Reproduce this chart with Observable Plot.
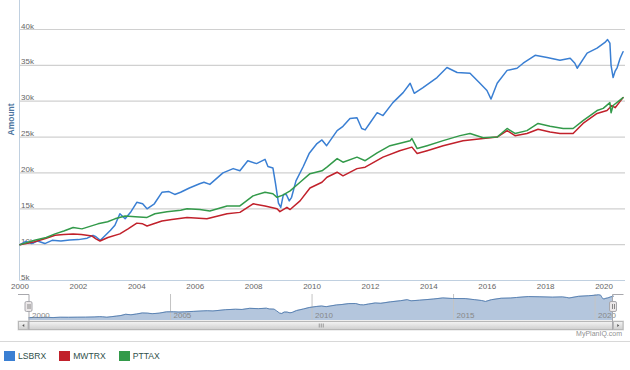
<!DOCTYPE html>
<html>
<head>
<meta charset="utf-8">
<script src="https://cdn.jsdelivr.net/npm/d3@7"></script>
<script src="https://cdn.jsdelivr.net/npm/@observablehq/plot@0.6"></script>
<style>
  html, body { margin: 0; padding: 0; background: #fff; }
  #chart { position: relative; width: 630px; height: 370px; font-family: "Liberation Sans", Arial, sans-serif; }
  #chart svg { display: block; }
  .legend { display: flex; align-items: center; height: 28px; padding-left: 4px; font-size: 8.6px; color: #30504a; }
  .legend .item { display: flex; align-items: center; margin-right: 13px; }
  .legend .sw { width: 11px; height: 10px; margin-right: 3px; }
</style>
</head>
<body>
<div id="chart"></div>
<script>
const FONT = '"Liberation Sans", Arial, sans-serif';

const seriesNames = ["LSBRX", "MWTRX", "PTTAX"];
const seriesColors = ["#3a7fd3", "#c1212b", "#339a4a"];

const yTicks = [5000, 10000, 15000, 20000, 25000, 30000, 35000, 40000];
const xTicks = [2000, 2002, 2004, 2006, 2008, 2010, 2012, 2014, 2016, 2018, 2020];
const navTicks = [2005, 2010, 2015, 2020];
const navLabels = [2000, 2005, 2010, 2015, 2020];

const lsbrxYears = [2000.0, 2000.2, 2000.4, 2000.6, 2000.85, 2001.1, 2001.4, 2001.7, 2002.0, 2002.3, 2002.5, 2002.6, 2002.75, 2002.9,
  2003.1, 2003.25, 2003.42, 2003.6, 2003.8, 2004.0, 2004.2, 2004.35, 2004.6, 2004.86, 2005.1, 2005.3, 2005.5, 2005.8,
  2006.15, 2006.3, 2006.5, 2006.95, 2007.3, 2007.53, 2007.8, 2008.1, 2008.39, 2008.49, 2008.66, 2008.75, 2008.85, 2008.93,
  2009.02, 2009.12, 2009.22, 2009.3, 2009.45, 2009.7, 2009.9, 2010.17, 2010.34, 2010.5, 2010.86, 2011.06, 2011.3, 2011.54,
  2011.7, 2011.82, 2011.99, 2012.23, 2012.43, 2012.77, 2013.12, 2013.36, 2013.5, 2013.8, 2014.28, 2014.62, 2014.97, 2015.41,
  2015.75, 2015.99, 2016.13, 2016.34, 2016.68, 2017.02, 2017.23, 2017.64, 2018.05, 2018.49, 2018.84, 2019.0, 2019.08, 2019.42,
  2019.76, 2020.03, 2020.12, 2020.2, 2020.24, 2020.31, 2020.38, 2020.45, 2020.55, 2020.65];
const lsbrxValues = [10000, 10450, 10150, 10500, 10150, 10600, 10500, 10650, 10700, 10900, 11300, 11100, 10600, 11200,
  12000, 12700, 14300, 13600, 14600, 15900, 15700, 15000, 15700, 17300, 17400, 17000, 17300, 17900,
  18500, 18700, 18400, 20000, 20600, 20300, 21700, 21300, 21900, 20900, 20700, 18500, 15800, 15200,
  17000, 17000, 16100, 16600, 18900, 20900, 22700, 24100, 24600, 23800, 25900, 26500, 27600, 27700,
  26200, 26000, 27000, 28400, 28000, 29800, 31200, 32500, 31100, 31900, 33300, 34700, 34000, 33900,
  32500, 31500, 30300, 32500, 34300, 34600, 35300, 36400, 36100, 35700, 36000, 35300, 34600, 36700,
  37400, 38200, 38600, 38100, 35000, 33300, 34200, 34700, 36000, 36900];

const mwtrxYears = [2000.0, 2000.5, 2000.9, 2001.2, 2001.5, 2001.82, 2002.1, 2002.47, 2002.6, 2002.74, 2003.01, 2003.42, 2003.7,
  2004.0, 2004.2, 2004.35, 2004.86, 2005.2, 2005.72, 2006.4, 2007.09, 2007.53, 2007.98, 2008.39, 2008.8, 2008.9, 2009.14,
  2009.25, 2009.59, 2009.93, 2010.34, 2010.51, 2010.86, 2011.06, 2011.54, 2011.82, 2012.43, 2013.0, 2013.42, 2013.6, 2013.94,
  2014.49, 2015.17, 2015.86, 2016.34, 2016.68, 2016.95, 2017.36, 2017.74, 2018.15, 2018.49, 2018.94, 2019.28, 2019.76,
  2020.1, 2020.27, 2020.38, 2020.65];
const mwtrxValues = [10000, 10400, 10900, 11300, 11400, 11500, 11400, 11200, 10800, 10500, 11000, 11500, 12200,
  13000, 12900, 12600, 13300, 13500, 13800, 13600, 14300, 14500, 15700, 15400, 15000, 14600, 15200,
  14900, 16100, 17900, 18700, 19400, 20100, 19600, 20600, 20800, 22200, 23100, 23600, 22700, 23100,
  23800, 24500, 24800, 25000, 25900, 25200, 25500, 26100, 25700, 25500, 25500, 26900, 28300,
  28700, 29400, 29100, 30500];

const pttaxYears = [2000.0, 2000.5, 2000.9, 2001.2, 2001.5, 2001.82, 2002.12, 2002.67, 2003.0, 2003.25, 2003.6, 2003.95,
  2004.35, 2004.62, 2005.03, 2005.5, 2005.72, 2006.16, 2006.5, 2007.09, 2007.53, 2007.98, 2008.39, 2008.66, 2008.8, 2009.0,
  2009.25, 2009.59, 2009.93, 2010.34, 2010.51, 2010.86, 2011.06, 2011.54, 2011.82, 2012.23, 2012.67, 2013.36, 2013.42,
  2013.6, 2013.94, 2014.49, 2015.07, 2015.41, 2015.86, 2016.34, 2016.68, 2016.95, 2017.36, 2017.74, 2018.15, 2018.6,
  2018.94, 2019.28, 2019.76, 2019.97, 2020.2, 2020.24, 2020.31, 2020.65];
const pttaxValues = [10000, 10600, 11000, 11500, 11900, 12400, 12200, 12900, 13200, 13600, 14000, 13900,
  13800, 14300, 14600, 14800, 15000, 14900, 14700, 15400, 15400, 16800, 17300, 17100, 16600, 16900,
  17500, 18700, 19900, 20300, 20800, 22000, 21500, 22200, 21700, 22800, 23800, 24500, 24800,
  23400, 23800, 24500, 25200, 25500, 24900, 25000, 26200, 25500, 25900, 26900, 26500, 26200,
  26200, 27300, 28700, 29000, 29800, 28400, 29400, 30500];

const toRows = (name, years, values) => years.map((year, i) => ({series: name, year, value: values[i]}));
const rows = [
  ...toRows("LSBRX", lsbrxYears, lsbrxValues),
  ...toRows("MWTRX", mwtrxYears, mwtrxValues),
  ...toRows("PTTAX", pttaxYears, pttaxValues)
];
const navRows = toRows("LSBRX", lsbrxYears, lsbrxValues);

const chart = document.getElementById("chart");

const main = Plot.plot({
  width: 630, height: 292,
  marginTop: 0, marginBottom: 12, marginLeft: 19.5, marginRight: 5,
  style: {fontFamily: FONT, fontSize: "8px", background: "transparent", overflow: "visible"},
  x: {type: "linear", domain: [2000, 2020.7], range: [19.5, 624], axis: null},
  y: {domain: [5000, 44044], axis: null},
  color: {domain: seriesNames, range: seriesColors},
  marks: [
    Plot.gridY(yTicks, {stroke: "#d0d0d0", strokeOpacity: 1, strokeWidth: 1.2}),
    Plot.ruleY([5000], {stroke: "#C0D0E0"}),
    Plot.ruleX([2000], {stroke: "#C0D0E0", dx: -0.5}),
    Plot.text(yTicks, {x: 2000, y: d => d, text: d => d / 1000 + "k", textAnchor: "start", lineAnchor: "bottom", dx: 1, dy: -1, fill: "#666", fontSize: 8}),
    Plot.axisX(xTicks, {tickSize: 0, tickPadding: 3, tickFormat: d => String(d), fill: "#666", fontSize: 8, label: null}),
    Plot.text(["Amount"], {frameAnchor: "left", rotate: -90, dx: -9, dy: -5, fill: "#4d759e", fontWeight: "bold", fontSize: 8.5}),
    Plot.line(rows, {x: "year", y: "value", stroke: "series", z: "series", strokeWidth: 1.5})
  ]
});
chart.appendChild(main);

const nav = Plot.plot({
  width: 630, height: 50,
  marginTop: 2, marginBottom: 22, marginLeft: 28.5, marginRight: 17,
  style: {fontFamily: FONT, fontSize: "8px", background: "transparent", overflow: "visible"},
  x: {type: "linear", domain: [2000, 2020.65], axis: null},
  y: {domain: [6500, 39000], axis: null},
  marks: [
    Plot.areaY(navRows, {x: "year", y1: 6500, y2: "value", fill: "#b4c6dd"}),
    Plot.ruleX(navTicks, {stroke: "#c4c4c4"}),
    Plot.line(navRows, {x: "year", y: "value", stroke: "#5b83b3", strokeWidth: 1}),
    Plot.text(navLabels, {x: d => d, text: d => String(d), frameAnchor: "bottom", textAnchor: "start", lineAnchor: "bottom", dx: 3, dy: -3, fill: "#888", fontSize: 8})
  ]
});
chart.appendChild(nav);

// navigator chrome (handles, outline, scrollbar, credit, separator)
(function () {
  const sx = nav.scale("x");
  const x0 = sx.apply(2000), x1 = sx.apply(2020.65);
  const svg = d3.select(nav);
  const defs = svg.append("defs");
  const g1 = defs.append("linearGradient").attr("id", "sbg").attr("x1", 0).attr("y1", 0).attr("x2", 0).attr("y2", 1);
  g1.append("stop").attr("offset", 0).attr("stop-color", "#f4f4f4");
  g1.append("stop").attr("offset", 1).attr("stop-color", "#cfcfcf");
  const top = 2, sbTop = 29, sbH = 9, bw = 10.5;
  svg.append("rect").attr("x", x0 - bw).attr("y", sbTop).attr("width", x1 - x0 + 2 * bw).attr("height", sbH)
    .attr("fill", "#eeeeee").attr("stroke", "#dddddd");
  svg.append("rect").attr("x", x0).attr("y", sbTop + 0.5).attr("width", x1 - x0).attr("height", sbH - 1)
    .attr("fill", "url(#sbg)").attr("stroke", "#b8b8b8");
  const cx = (x0 + x1) / 2;
  [-2, 0, 2].forEach(o => svg.append("line").attr("x1", cx + o + 0.5).attr("x2", cx + o + 0.5)
    .attr("y1", sbTop + 2.5).attr("y2", sbTop + sbH - 2.5).attr("stroke", "#999"));
  [[x0 - bw, -1], [x1, 1]].forEach(([bx, dir]) => {
    svg.append("rect").attr("x", bx + 0.5).attr("y", sbTop + 0.5).attr("width", bw - 1).attr("height", sbH - 1)
      .attr("fill", "url(#sbg)").attr("stroke", "#b8b8b8");
    const mx = bx + bw / 2, my = sbTop + sbH / 2;
    svg.append("path").attr("d", dir < 0
      ? `M${mx + 1},${my - 1.5}L${mx - 1},${my}L${mx + 1},${my + 1.5}Z`
      : `M${mx - 1},${my - 1.5}L${mx + 1},${my}L${mx - 1},${my + 1.5}Z`).attr("fill", "#555");
  });
  svg.append("path")
    .attr("d", `M${x0 - bw},${top + 0.5}L${x0 + 0.5},${top + 0.5}L${x0 + 0.5},${sbTop + sbH}M${x1 - 0.5},${sbTop + sbH}L${x1 - 0.5},${top + 0.5}L${x1 + bw},${top + 0.5}`)
    .attr("fill", "none").attr("stroke", "#a8a8ad").attr("stroke-width", 1);
  [x0, x1].forEach(hx => {
    svg.append("rect").attr("x", hx - 3.5).attr("y", 9.5).attr("width", 7).attr("height", 10).attr("rx", 1.5)
      .attr("fill", "#ebe7e8").attr("stroke", "#a8a8ad");
    [-1, 1].forEach(o => svg.append("line").attr("x1", hx + o + 0.5).attr("x2", hx + o + 0.5)
      .attr("y1", 12).attr("y2", 17).attr("stroke", "#888"));
  });
  svg.append("text").attr("x", 622).attr("y", 44).attr("text-anchor", "end")
    .attr("font-size", 7).attr("fill", "#909090").text("MyPlanIQ.com");
  svg.append("line").attr("x1", 0).attr("x2", 630).attr("y1", 49.5).attr("y2", 49.5).attr("stroke", "#d8d8d8");
})();

const legend = document.createElement("div");
legend.className = "legend";
seriesNames.forEach((name, i) => {
  const item = document.createElement("div");
  item.className = "item";
  const sw = document.createElement("div");
  sw.className = "sw";
  sw.style.background = seriesColors[i];
  const label = document.createElement("span");
  label.textContent = name;
  item.appendChild(sw);
  item.appendChild(label);
  legend.appendChild(item);
});
chart.appendChild(legend);
</script>
</body>
</html>
